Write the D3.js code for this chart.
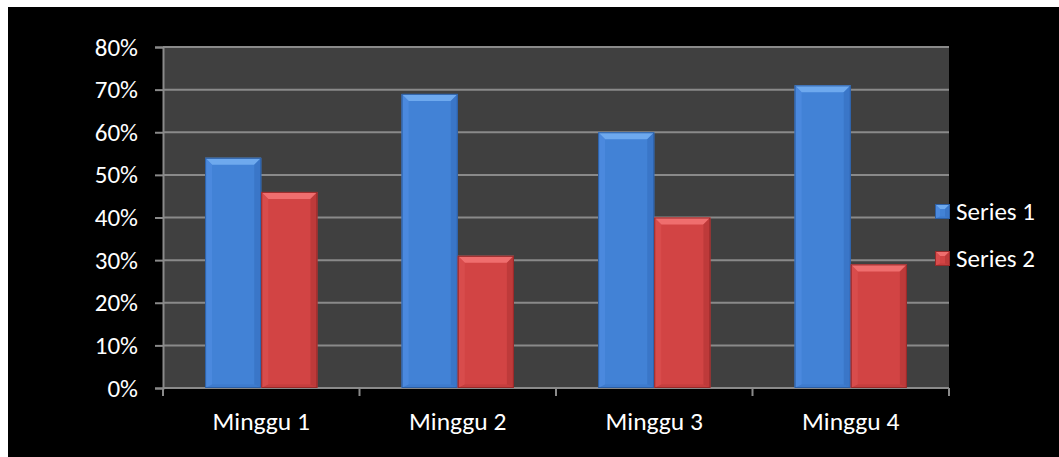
<!DOCTYPE html>
<html>
<head>
<meta charset="utf-8">
<script src="https://cdn.jsdelivr.net/npm/d3@7"></script>
<style>
html,body{margin:0;padding:0;background:#fff;}
svg{display:block;}
text{font-family:Carlito,Lato,"Open Sans",sans-serif;fill:#fff;}
</style>
</head>
<body>
<svg id="chart" width="1059" height="457"></svg>
<script>
const categories = ["Minggu 1", "Minggu 2", "Minggu 3", "Minggu 4"];
const seriesNames = ["Series 1", "Series 2"];
const series1 = [0.54, 0.69, 0.60, 0.71];
const series2 = [0.46, 0.31, 0.40, 0.29];
const yTicks = [0, 0.1, 0.2, 0.3, 0.4, 0.5, 0.6, 0.7, 0.8];

const svg = d3.select("#chart");
svg.append("rect").attr("x", 8).attr("y", 7).attr("width", 1051).attr("height", 450).attr("fill", "#000");

const plot = {left: 163, top: 47, right: 949, bottom: 388};
const x = d3.scaleBand().domain(categories).range([plot.left, plot.right]).paddingInner(0).paddingOuter(0);
const xs = d3.scaleBand().domain(seriesNames).range([0, x.bandwidth()]).paddingInner(0).paddingOuter(0.75);
const y = d3.scaleLinear().domain([0, 0.8]).range([plot.bottom, plot.top]);

svg.append("rect").attr("x", plot.left).attr("y", plot.top)
  .attr("width", plot.right - plot.left).attr("height", plot.bottom - plot.top).attr("fill", "#404040");

// gridlines
svg.append("g").selectAll("line").data(yTicks.slice(1)).join("line")
  .attr("x1", plot.left).attr("x2", plot.right)
  .attr("y1", d => y(d)).attr("y2", d => y(d))
  .attr("stroke", "#8a8a8a").attr("stroke-width", 2);

// y axis
const yAxis = d3.axisLeft(y).tickValues(yTicks).tickFormat(d3.format(".0%")).tickSize(8).tickPadding(17);
const gy = svg.append("g").attr("transform", `translate(${plot.left},0)`).call(yAxis);
gy.select(".domain").attr("stroke", "#8a8a8a").attr("stroke-width", 2);
gy.selectAll(".tick line").attr("stroke", "#8a8a8a").attr("stroke-width", 2);
gy.selectAll(".tick text").attr("fill", "#fff").style("font-size", "25px").style("font-family", "Carlito,Lato,sans-serif");

// x axis
const boundaries = categories.map(c => x(c)).concat([plot.right]);
svg.append("line").attr("x1", plot.left).attr("x2", plot.right).attr("y1", plot.bottom).attr("y2", plot.bottom)
  .attr("stroke", "#8a8a8a").attr("stroke-width", 2);
svg.append("g").selectAll("line").data(boundaries).join("line")
  .attr("x1", d => d).attr("x2", d => d).attr("y1", plot.bottom).attr("y2", plot.bottom + 8)
  .attr("stroke", "#8a8a8a").attr("stroke-width", 2);
svg.append("g").selectAll("text").data(categories).join("text")
  .attr("x", d => x(d) + x.bandwidth() / 2).attr("y", 430)
  .attr("text-anchor", "middle").style("font-size", "25.5px").text(d => d);

const palettes = {
  "Series 1": {body: "#4282d6", top: "#6ea9ee", left: "#4d8be0", right: "#3873c4", bottom: "#3a76c8", edge: "#2d5fa4"},
  "Series 2": {body: "#d24444", top: "#ef6e6e", left: "#d94f4f", right: "#b93838", bottom: "#bd3a3a", edge: "#962a2a"}
};

function bevelBar(g, bx, by, bw, bh, p, b) {
  const bv = Math.min(b, bh / 2, bw / 2);
  g.append("rect").attr("x", bx).attr("y", by).attr("width", bw).attr("height", bh).attr("fill", p.body);
  g.append("polygon").attr("points", [[bx, by], [bx + bw, by], [bx + bw - bv, by + bv], [bx + bv, by + bv]].join(" ")).attr("fill", p.top);
  g.append("polygon").attr("points", [[bx, by], [bx + bv, by + bv], [bx + bv, by + bh - bv / 2], [bx, by + bh]].join(" ")).attr("fill", p.left).attr("opacity", 0.8);
  g.append("polygon").attr("points", [[bx + bw, by], [bx + bw - bv, by + bv], [bx + bw - bv, by + bh - bv / 2], [bx + bw, by + bh]].join(" ")).attr("fill", p.right).attr("opacity", 0.8);
  g.append("polygon").attr("points", [[bx, by + bh], [bx + bv, by + bh - bv / 2], [bx + bw - bv, by + bh - bv / 2], [bx + bw, by + bh]].join(" ")).attr("fill", p.bottom).attr("opacity", 0.6);
  g.append("rect").attr("x", bx + 0.5).attr("y", by + 0.5).attr("width", bw - 1).attr("height", bh - 1)
    .attr("fill", "none").attr("stroke", p.edge).attr("stroke-width", 1);
}

const data = [series1, series2];
const barsG = svg.append("g");
categories.forEach((c, i) => {
  seriesNames.forEach((s, j) => {
    const v = data[j][i];
    const bx = x(c) + xs(s);
    bevelBar(barsG, bx, y(v), xs.bandwidth(), y(0) - y(v), palettes[s], 7);
  });
});

// legend
const leg = svg.append("g");
const legendY = [204, 251];
seriesNames.forEach((s, j) => {
  bevelBar(leg, 935, legendY[j], 15, 15, palettes[s], 5);
  leg.append("text").attr("x", 956).attr("y", legendY[j] + 16).style("font-size", "25px").text(s);
});
</script>
</body>
</html>
